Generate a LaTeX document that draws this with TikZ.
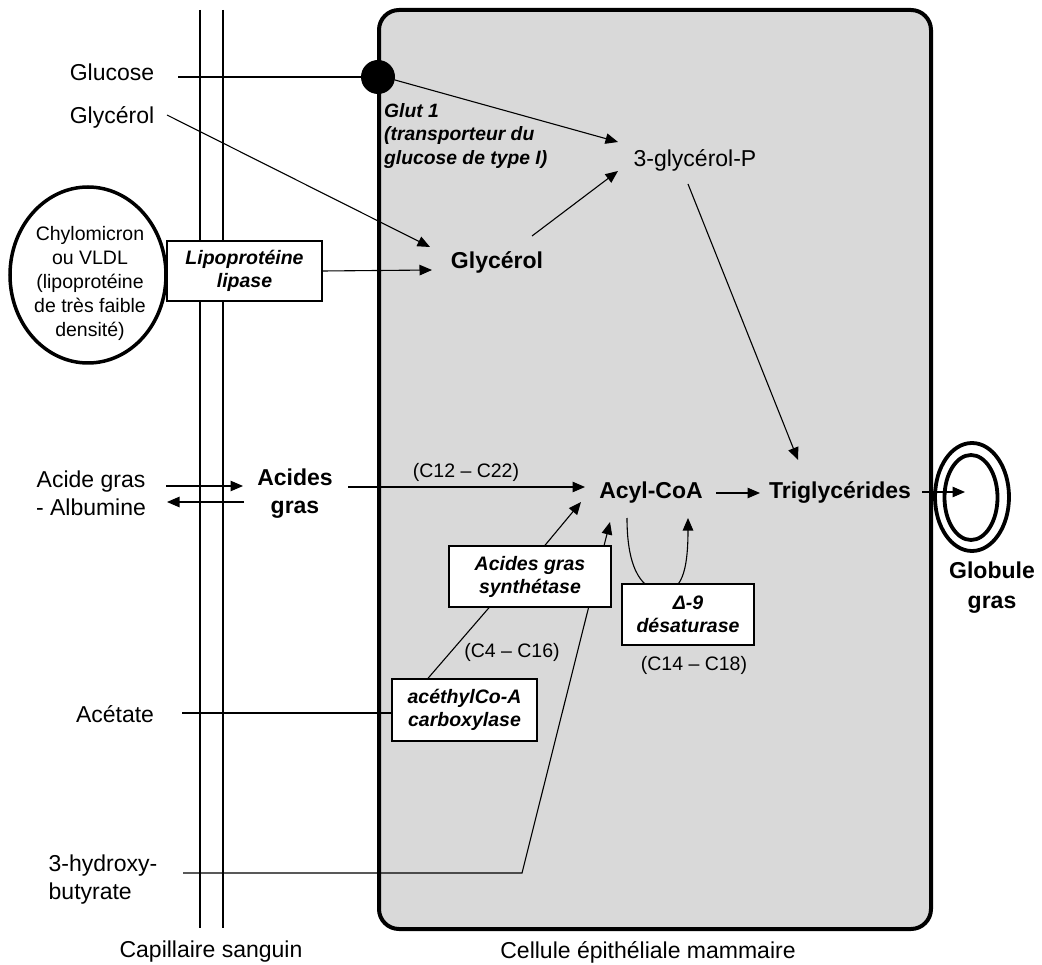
\documentclass[tikz,border=0pt]{standalone}
\usepackage{fontspec}
\setmainfont{Liberation Sans}
\usetikzlibrary{arrows.meta,shapes.geometric}
\definecolor{cellgray}{RGB}{217,217,217}
\pgfdeclarelayer{bg}
\pgfdeclarelayer{links}
\pgfdeclarelayer{front}
\pgfsetlayers{bg,links,main,front}
\tikzset{
  lbl/.style={inner sep=0pt,align=center,font=\fontsize{23}{28}\selectfont},
  blbl/.style={inner sep=0pt,align=center,font=\fontsize{23}{28}\selectfont\bfseries},
  smlbl/.style={inner sep=0pt,align=center,font=\fontsize{19.5}{23.5}\selectfont},
  enzyme/.style={draw,fill=white,line width=1.4pt,inner sep=0pt,align=center,
    font=\fontsize{19.5}{23}\selectfont\bfseries\itshape},
  link/.style={line width=1.1pt},
  arr/.style={link,-{Triangle[length=12.5pt,width=10.5pt]}},
}
\begin{document}
\begin{tikzpicture}[x=1pt,y=-1pt]
\useasboundingbox (0,0) rectangle (1042,965);

% labels outside the cell
\node[lbl] (glucose) at (112,72) {Glucose};
\node[lbl] (glycout) at (112,117) {Glycérol};
\node[draw,ellipse,line width=3.5pt,minimum width=156pt,minimum height=176pt,inner sep=0pt] (chylo) at (88,275) {};
\node[smlbl,font=\fontsize{19.5}{24}\selectfont] (chylotxt) at (90,283) {Chylomicron\\ou VLDL\\(lipoprotéine\\de très faible\\densité)};
\node[enzyme,minimum width=155pt,minimum height=60pt] (lipo) at (244.5,271) {Lipoprotéine\\lipase};
\node[lbl] (agalb) at (91,493) {Acide gras\\- Albumine};
\node[blbl] (ag) at (295,494) {Acides\\gras};
\node[lbl] (acet) at (115,714) {Acétate};
\node[lbl,align=left] (hb) at (103,879.5) {3-hydroxy-\\butyrate};
\node[lbl] (capil) at (211,952) {Capillaire sanguin};
\node[lbl] (cellule) at (648,952) {Cellule épithéliale mammaire};

% inside the cell
\node[circle,fill=black,minimum size=34pt,inner sep=0pt] (glut) at (378,77) {};
\node[anchor=west,inner sep=0pt,align=left,font=\fontsize{19.3}{23.5}\selectfont\bfseries\itshape] (glutlbl) at (384,136) {Glut 1\\(transporteur du\\glucose de type I)};
\node[lbl] (gp3) at (695,160) {3-glycérol-P};
\node[blbl] (glyc) at (497,262) {Glycérol};
\node[blbl] (acyl) at (651,493) {Acyl-CoA};
\node[blbl] (trig) at (840,493) {Triglycérides};
\node[smlbl] (c1222) at (466,472) {(C12 – C22)};
\node[enzyme,minimum width=162pt,minimum height=61pt] (synth) at (530,576.5) {Acides gras\\synthétase};
\node[smlbl] (c416) at (512,652) {(C4 – C16)};
\node[enzyme,minimum width=145pt,minimum height=62pt] (acc) at (464.5,710) {acéthylCo-A\\carboxylase};
\node[enzyme,minimum width=132pt,minimum height=61pt] (desat) at (688,614.5) {Δ-9\\désaturase};
\node[smlbl] (c1418) at (694,665) {(C14 – C18)};

% fat globule
\node[draw,ellipse,line width=3.8pt,fill=white,minimum width=74pt,minimum height=108pt,inner sep=0pt] (globout) at (972,497) {};
\node[draw,ellipse,line width=3.8pt,minimum width=53pt,minimum height=85pt,inner sep=0pt] (globin) at (971,497.5) {};
\node[blbl,font=\fontsize{23}{30}\selectfont\bfseries] (globlbl) at (992,588) {Globule\\gras};

% capillary walls and cell body
\begin{pgfonlayer}{bg}
  \draw[line width=1.3pt] (200,10) -- (200,928) (223,10) -- (223,928);
  \draw[fill=cellgray,line width=4pt,rounded corners=20pt] (379,10) rectangle (931,929);
\end{pgfonlayer}

% pathways
\begin{pgfonlayer}{links}
  \draw[link] ([shift={(66,5)}]glucose.center) -- (glut.center);
  \draw[arr] (glut.-10) -- ([shift={(-77,-18)}]gp3.center);
  \draw[arr] ([shift={(55,-2)}]glycout.center) -- ([shift={(-67,-15)}]glyc.center);
  \draw[arr] (lipo.east) -- ([shift={(-65,8)}]glyc.center);
  \draw[arr] ([shift={(35,-26)}]glyc.center) -- ([shift={(-77,11)}]gp3.center);
  \draw[arr] ([shift={(-7,24)}]gp3.center) -- ([shift={(-42,-33)}]trig.center);
  \draw[arr] ([shift={(75,-7)}]agalb.center) -- ([shift={(-52,-8)}]ag.center);
  \draw[arr] ([shift={(-51,8)}]ag.center) -- ([shift={(76,9)}]agalb.center);
  \draw[arr] ([shift={(53,-7)}]ag.center) -- ([shift={(-66,-6)}]acyl.center);
  \draw[arr] ([shift={(65,0)}]acyl.center) -- ([shift={(-80,0)}]trig.center);
  \draw[arr] ([shift={(15,0)}]synth.north) -- ([shift={(-70,9)}]acyl.center);
  \draw[link] ([shift={(-36.5,0)}]acc.north) -- ([shift={(-41,0)}]synth.south);
  \draw[link] ([shift={(67,-1)}]acet.center) -- ([shift={(0,3)}]acc.west);
  \draw[arr] ([shift={(80,-6.5)}]hb.center) -- ([shift={(-129,380)}]acyl.center) -- ([shift={(-41,29)}]acyl.center);
  % desaturation loop, its lowest part tucked under the enzyme box
  \draw[arr] ([shift={(-24,25)}]acyl.center)
     .. controls ([shift={(-24,78)}]acyl.center) and ([shift={(-45,8)}]desat.north) .. ([shift={(-24,8)}]desat.north)
     .. controls ([shift={(-4,8)}]desat.north) and ([shift={(37,70)}]acyl.center) .. ([shift={(37,25)}]acyl.center);
\end{pgfonlayer}
\begin{pgfonlayer}{front}
  \draw[arr] ([shift={(82,-1)}]trig.center) -- ([shift={(-7,-5)}]globout.center);
\end{pgfonlayer}
\end{tikzpicture}
\end{document}
